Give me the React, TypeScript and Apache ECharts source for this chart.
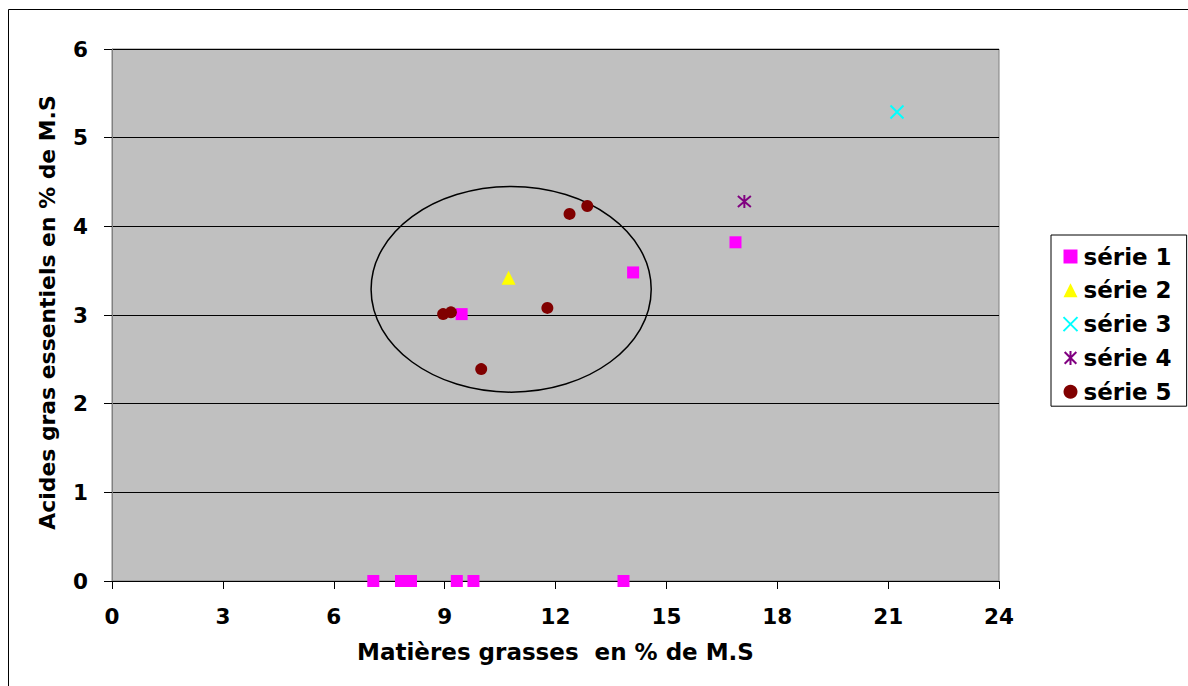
import React, { useEffect, useRef } from "react";
import * as echarts from "echarts";

const serie1: number[][] = [
  [9.46, 3.01], [14.1, 3.48], [16.87, 3.82],
  [7.07, 0], [7.82, 0], [8.09, 0], [9.33, 0], [9.78, 0], [13.84, 0],
];
const serie2: number[][] = [[10.73, 3.42]];
const serie3: number[][] = [[21.24, 5.29]];
const serie4: number[][] = [[17.11, 4.28]];
const serie5: number[][] = [
  [8.96, 3.01], [9.17, 3.03], [11.78, 3.08], [9.99, 2.39], [12.38, 4.14], [12.86, 4.23],
];
// ellipse: center x, center y, radius x, radius y (data units)
const ellipseData: number[][] = [[10.8, 3.29, 3.79, 1.16]];

const xTitle = "Matières grasses  en % de M.S";
const yTitle = "Acides gras essentiels en % de M.S";
const seriesNames = ["série 1", "série 2", "série 3", "série 4", "série 5"];

const FONT = "DejaVu Sans";

export default function App() {
  const ref = useRef<HTMLDivElement>(null);
  useEffect(() => {
    document.body.style.margin = "0";
    const chart = echarts.init(ref.current!, null, { renderer: "svg" });
    const base = { fontFamily: FONT, fontWeight: "bold" as const, color: "#000" };
    chart.setOption({
      animation: false,
      backgroundColor: "#fff",
      graphic: [
        {
          type: "rect",
          shape: { x: 8.5, y: 9.5, width: 1200, height: 700 },
          style: { fill: "none", stroke: "#000", lineWidth: 1 },
          silent: true,
          z: -10,
        },
        {
          type: "text",
          x: 47, y: 312.5,
          rotation: Math.PI / 2,
          style: {
            text: yTitle, fill: "#000",
            font: "bold 21.9px 'DejaVu Sans'",
            align: "center", verticalAlign: "middle",
          },
          silent: true,
        },
      ],
      grid: {
        left: 112, top: 49, right: 189, bottom: 105,
        show: true, backgroundColor: "#C0C0C0", borderColor: "#808080", borderWidth: 1,
      },
      legend: {
        orient: "vertical",
        left: 1051, top: 235,
        borderColor: "#000", borderWidth: 1,
        padding: [10, 15, 3, 10],
        itemGap: 10.8,
        itemWidth: 14, itemHeight: 14,
        textStyle: { ...base, fontSize: 23, lineHeight: 23, padding: [0, 0, 0, 1] },
        data: seriesNames,
      },
      xAxis: {
        type: "value", min: 0, max: 24, interval: 3,
        name: xTitle, nameLocation: "middle", nameGap: 59,
        nameTextStyle: { ...base, fontSize: 23 },
        axisLine: { show: true, onZero: false, lineStyle: { color: "#000", width: 1 } },
        axisTick: { show: true, length: 8, inside: false, lineStyle: { color: "#000" } },
        axisLabel: { ...base, fontSize: 21.5, margin: 24 },
        splitLine: { show: false },
      },
      yAxis: {
        type: "value", min: 0, max: 6, interval: 1,
        axisLine: { show: true, lineStyle: { color: "#808080", width: 1 } },
        axisTick: { show: true, length: 8, inside: false, lineStyle: { color: "#000" } },
        axisLabel: { ...base, fontSize: 21.5, margin: 24 },
        splitLine: { show: true, lineStyle: { color: "#000", width: 1 } },
      },
      series: [
        {
          name: "série 1", type: "scatter", data: serie1,
          symbol: "rect", symbolSize: 12, itemStyle: { color: "#FF00FF", opacity: 1 }, z: 5,
        },
        {
          name: "série 2", type: "scatter", data: serie2,
          symbol: "triangle", symbolSize: 14, itemStyle: { color: "#FFFF00", opacity: 1 }, z: 5,
        },
        {
          name: "série 3", type: "scatter", data: serie3,
          symbol: "path://M0,0L10,10M10,0L0,10", symbolSize: 13,
          itemStyle: { color: "none", borderColor: "#00FFFF", borderWidth: 2, opacity: 1 }, z: 5,
        },
        {
          name: "série 4", type: "scatter", data: serie4,
          symbol: "path://M0,0L10,10M10,0L0,10M5,-1L5,11", symbolSize: 13,
          itemStyle: { color: "none", borderColor: "#800080", borderWidth: 2, opacity: 1 }, z: 5,
        },
        {
          name: "série 5", type: "scatter", data: serie5,
          symbol: "circle", symbolSize: 12, itemStyle: { color: "#800000", opacity: 1 }, z: 5,
        },
        {
          name: "ellipse", type: "custom", data: ellipseData, silent: true, z: 4,
          renderItem: (params: any, api: any) => {
            const c = api.coord([api.value(0), api.value(1)]);
            const s = api.size([api.value(2), api.value(3)]);
            return {
              type: "ellipse",
              shape: { cx: c[0], cy: c[1], rx: s[0], ry: s[1] },
              style: { fill: "none", stroke: "#000", lineWidth: 1.5 },
            };
          },
        },
      ],
    });
    return () => chart.dispose();
  }, []);
  return <div ref={ref} style={{ width: 1188, height: 686 }} />;
}
